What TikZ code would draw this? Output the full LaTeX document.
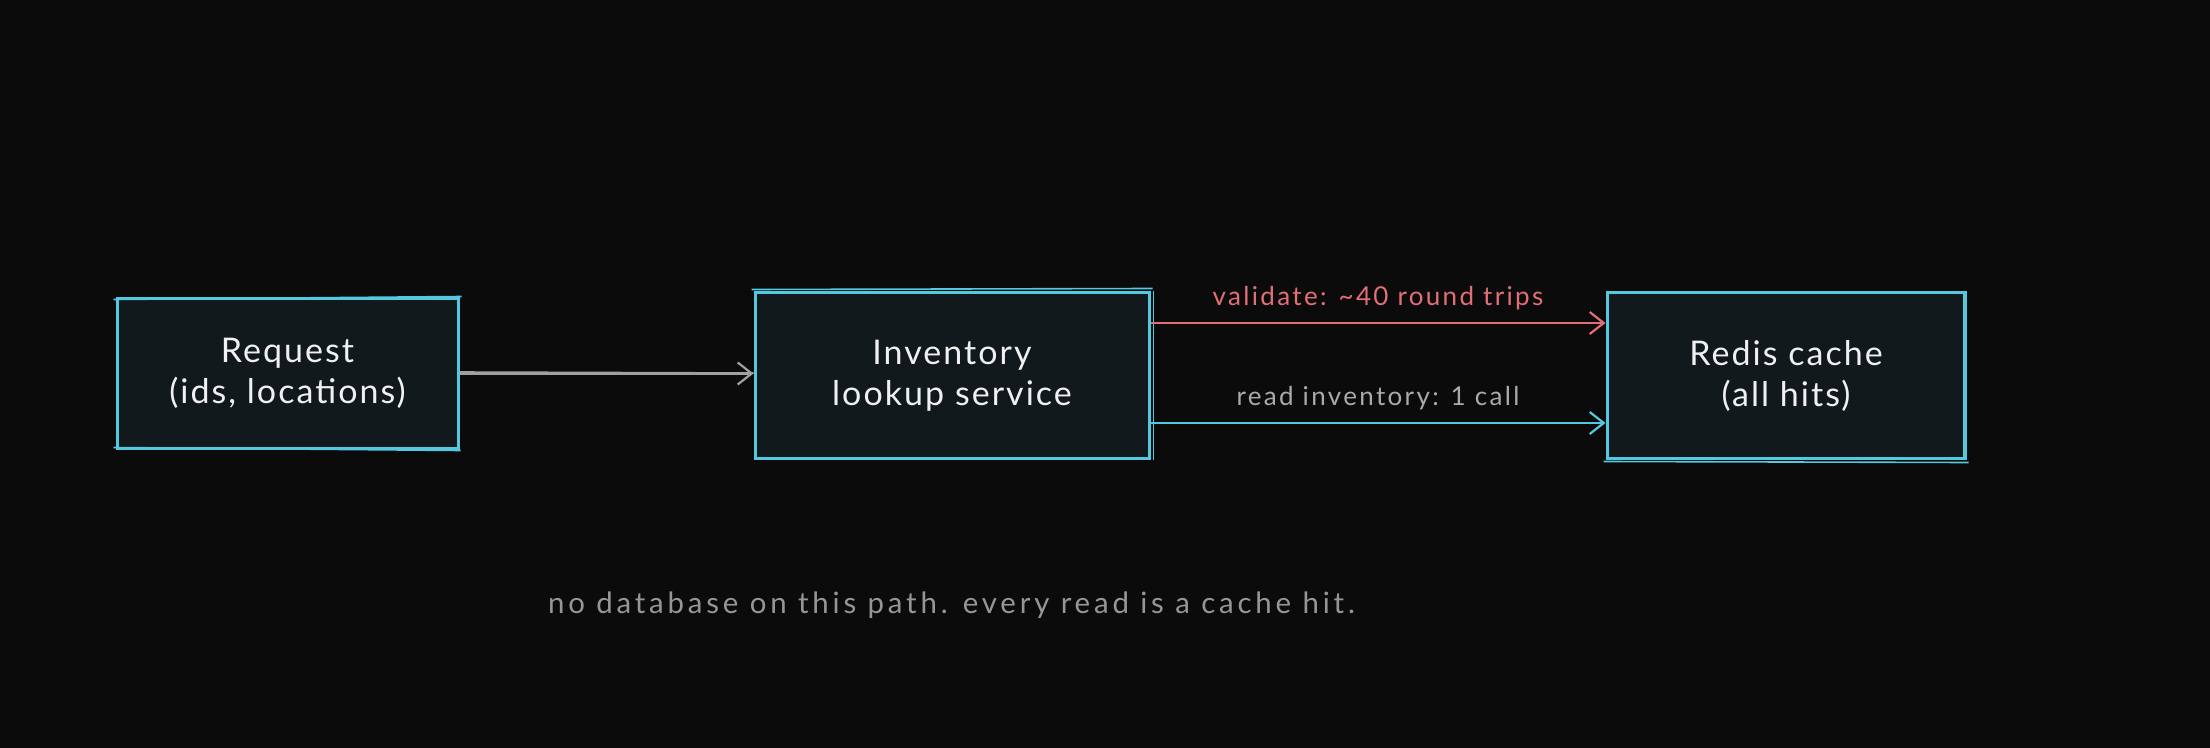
\documentclass[tikz,border=0pt]{standalone}
\usepackage{fontspec}
\setmainfont{Lato}
\newfontfamily\boxfont[LetterSpace=6]{Lato}
\newfontfamily\lblfont[LetterSpace=9]{Lato}
\newfontfamily\footfont[LetterSpace=13]{Lato}
\usetikzlibrary{arrows.meta,calc}
\definecolor{bgc}{RGB}{11,11,11}
\definecolor{boxfill}{RGB}{18,25,29}
\definecolor{boxline}{RGB}{84,200,222}
\definecolor{redline}{RGB}{226,110,118}
\definecolor{grayline}{RGB}{160,160,160}
\definecolor{txt}{RGB}{240,240,240}
\definecolor{lbl}{RGB}{170,170,170}
\definecolor{foot}{RGB}{150,150,150}
\tikzset{
  px/.style={x=0.5pt,y=-0.5pt},
  box/.style={draw=boxline, fill=boxfill, line width=1.5pt, align=center, text=txt,
    font=\boxfont\fontsize{17}{20.5}\selectfont, inner sep=0pt},
  sketch/.style={draw=boxline, line width=0.8pt},
  conn/.style={line width=1.1pt, -{Straight Barb[length=7pt,width=11pt,line width=1.1pt]}},
  elabel/.style={font=\lblfont\fontsize{13}{15}\selectfont},
}
\begin{document}
\begin{tikzpicture}[px]
\fill[bgc] (0,0) rectangle (2210,748);
\useasboundingbox (0,0) rectangle (2210,748);

\node[box, minimum width=170.5pt, minimum height=74.5pt] (req) at (287.5,373.5) {Request\\(ids, locations)};
\node[box, minimum width=197pt, minimum height=82.5pt] (inv) at (952,375.5) {Inventory\\lookup service};
\node[box, minimum width=179pt, minimum height=82.5pt] (red) at (1786,375.5) {Redis cache\\(all hits)};

% sketchy second strokes
\draw[sketch] ([shift={(-1pt,-1pt)}]req.north west) -- ([shift={(1pt,0.5pt)}]req.north east);
\draw[sketch] ([shift={(-1pt,1pt)}]req.south west) -- ([shift={(0.5pt,-0.5pt)}]req.south east);
\draw[sketch] ([shift={(1.5pt,0pt)}]inv.north east) -- ([shift={(1.5pt,0pt)}]inv.south east);
\draw[sketch] ([shift={(-1pt,1pt)}]inv.north west) -- ([shift={(1pt,1.5pt)}]inv.north east);
\draw[sketch] ([shift={(-1.5pt,0pt)}]red.north east) -- ([shift={(-1.5pt,0pt)}]red.south east);
\draw[sketch] ([shift={(-1pt,-1pt)}]red.south west) -- ([shift={(1pt,-1.5pt)}]red.south east);

\draw[conn, grayline] (req.east) -- (req.east -| inv.west);
\draw[grayline, line width=0.7pt] ([yshift=0.8pt]req.east) -- ([yshift=0.3pt]req.east -| inv.west);

\draw[conn, redline] ([yshift=26.25pt]inv.east) -- ([yshift=26.25pt]red.west)
  node[midway, above=2.5pt, elabel, text=redline] {validate: \textasciitilde40 round trips};
\draw[conn, boxline] ([yshift=-23.75pt]inv.east) -- ([yshift=-23.75pt]red.west)
  node[midway, above=2.5pt, elabel, text=lbl] {read inventory: 1 call};

\node[font=\footfont\fontsize{14.7}{17}\selectfont, text=foot, anchor=west] (note) at (541,605)
  {no database on this path. every read is a cache hit.};
\end{tikzpicture}
\end{document}
